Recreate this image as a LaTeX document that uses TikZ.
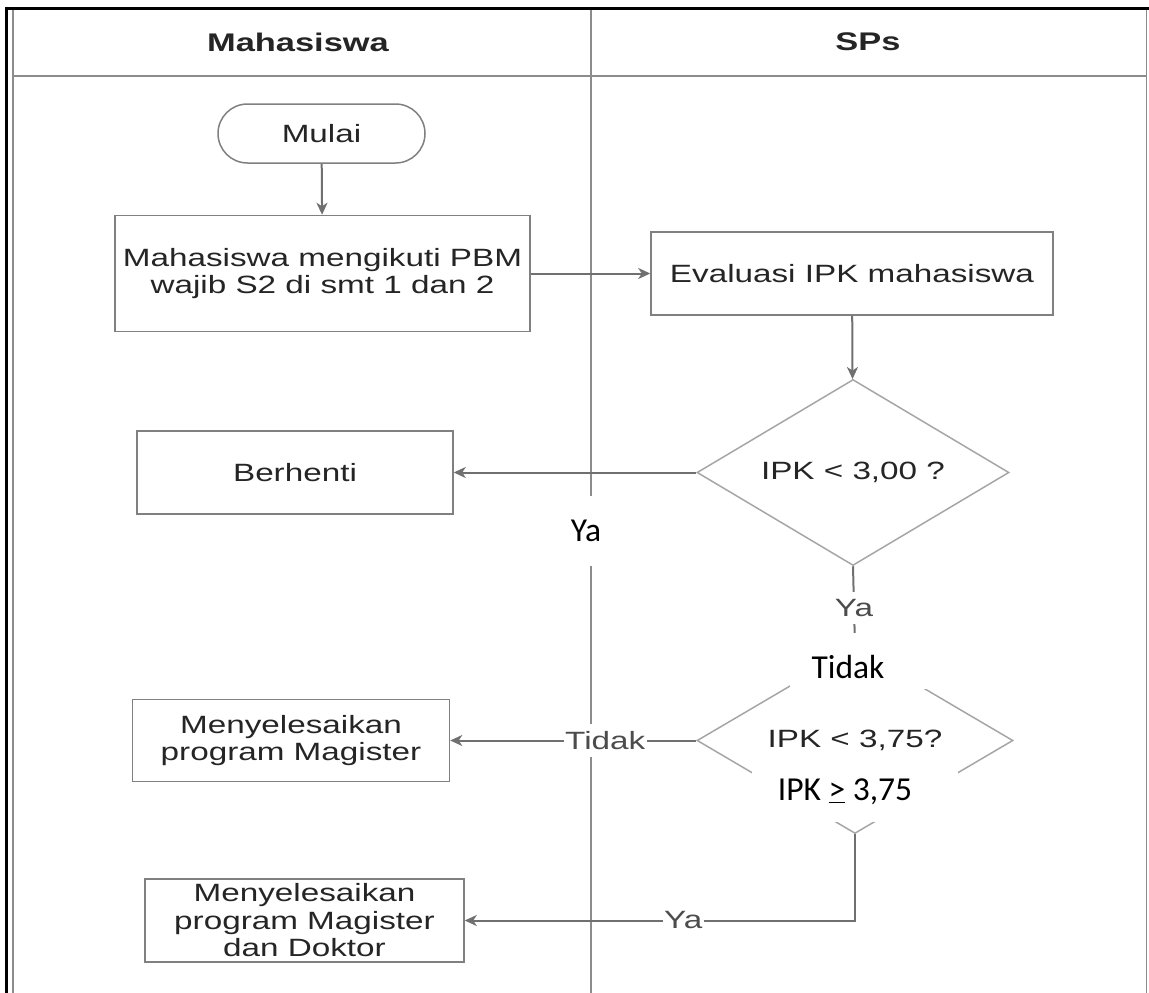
\documentclass[tikz,border=0pt]{standalone}
\usepackage{fontspec}
\usetikzlibrary{shapes.geometric,arrows.meta}

% Flowchart lettering is set wide, as in the source drawing tool
\newfontfamily\flowfont[FakeStretch=1.33]{Liberation Sans}
\newfontfamily\headfont[FakeStretch=1.35]{Liberation Sans}
\newfontfamily\notefont{Carlito}

\definecolor{ink}{HTML}{252525}
\definecolor{edgegray}{HTML}{707070}
\definecolor{rimgray}{HTML}{808080}
\definecolor{diagray}{HTML}{A6A6A6}
\definecolor{lanegray}{HTML}{8C8C8C}
\definecolor{taggray}{HTML}{4C4C4C}

\tikzset{
  x=1pt, y=-1pt,
  lane/.style={draw=lanegray, line width=1.6pt},
  frame/.style={draw=black, line width=3pt},
  head/.style={font=\headfont\bfseries\fontsize{25.5}{28}\selectfont, text=ink, inner sep=0pt},
  proc/.style={draw=rimgray, line width=1.5pt, fill=white, inner sep=0pt,
    align=center, text=ink, font=\flowfont\fontsize{25}{27.5}\selectfont},
  term/.style={proc, rounded corners=29.5pt},
  decide/.style={diamond, aspect=2, draw=diagray, line width=1.5pt, fill=white,
    inner sep=0pt, text=ink, font=\flowfont\fontsize{25}{27.5}\selectfont},
  flow/.style={draw=edgegray, line width=2pt,
    -{Stealth[length=12pt,width=11pt,inset=3.5pt]}},
  tag/.style={fill=white, text=taggray, inner xsep=1.5pt, inner ysep=7pt,
    font=\flowfont\fontsize{25}{27.5}\selectfont},
  note/.style={font=\notefont\fontsize{33.5}{36}\selectfont, text=black, inner sep=0pt},
}

\begin{document}
\begin{tikzpicture}
\useasboundingbox (0,0) rectangle (1149,993);

% swimlane pool
\draw[lane] (13,9) -- (13,993);
\draw[lane] (1146.5,9) -- (1146.5,993);
\draw[lane] (13,76) -- (1146.5,76);
\draw[lane] (591,9) -- (591,993);
\draw[frame] (5,8) -- (1149,8);
\draw[frame] (6.5,6.5) -- (6.5,993);

% lane headers
\node[head] (hmhs) at (298,42) {Mahasiswa};
\node[head] (hsps) at (868,42) {SPs};

% process steps
\node[term, minimum width=207pt, minimum height=59pt] (mulai) at (321.5,133.5) {Mulai};
\node[proc, minimum width=415pt, minimum height=116pt] (pbm) at (322.5,273.5)
  {Mahasiswa mengikuti PBM\\wajib S2 di smt 1 dan 2};
\node[proc, minimum width=402pt, minimum height=83pt] (eval) at (852,273.5)
  {Evaluasi IPK mahasiswa};
\node[decide, minimum width=312pt, minimum height=186pt] (ipk1) at (853,472.5)
  {IPK < 3,00 ?};
\node[proc, minimum width=316pt, minimum height=83pt] (stop) at (295,472.5) {Berhenti};
\node[decide, minimum width=316pt, minimum height=186pt] (ipk2) at (855,740.5)
  {IPK < 3,75?};
\node[proc, minimum width=317pt, minimum height=82pt] (mag) at (291,740.5)
  {Menyelesaikan\\program Magister};
\node[proc, minimum width=319pt, minimum height=83pt] (dok) at (304.5,920.5)
  {Menyelesaikan\\program Magister\\dan Doktor};

% connectors
\draw[flow] (mulai) -- (pbm);
\draw[flow] (pbm) -- (eval);
\draw[flow] (eval) -- (ipk1);
\draw[flow] (ipk1.west) -- (stop.east);
\draw[flow] (ipk1.south) -- node[tag, pos=0.52] (ya1) {Ya} (ipk2.north);
\draw[flow] (ipk2.west) -- node[tag, pos=0.37] (tdk1) {Tidak} (mag.east);
\draw[flow] (ipk2.south) |- node[tag, pos=0.72] (ya2) {Ya} (dok.east);

% added annotations on white patches
\node[note, fill=white, minimum width=44pt, minimum height=70pt] (yanote) at (586,531) {Ya};
\fill[white] (790,633) rectangle (929,689);
\node[note] (tdknote) at (848,667) {Tidak};
\fill[white] (752,772) rectangle (958,822);
\node[note] (ipknote) at (845,792) {IPK \underline{>} 3,75};
\end{tikzpicture}
\end{document}
